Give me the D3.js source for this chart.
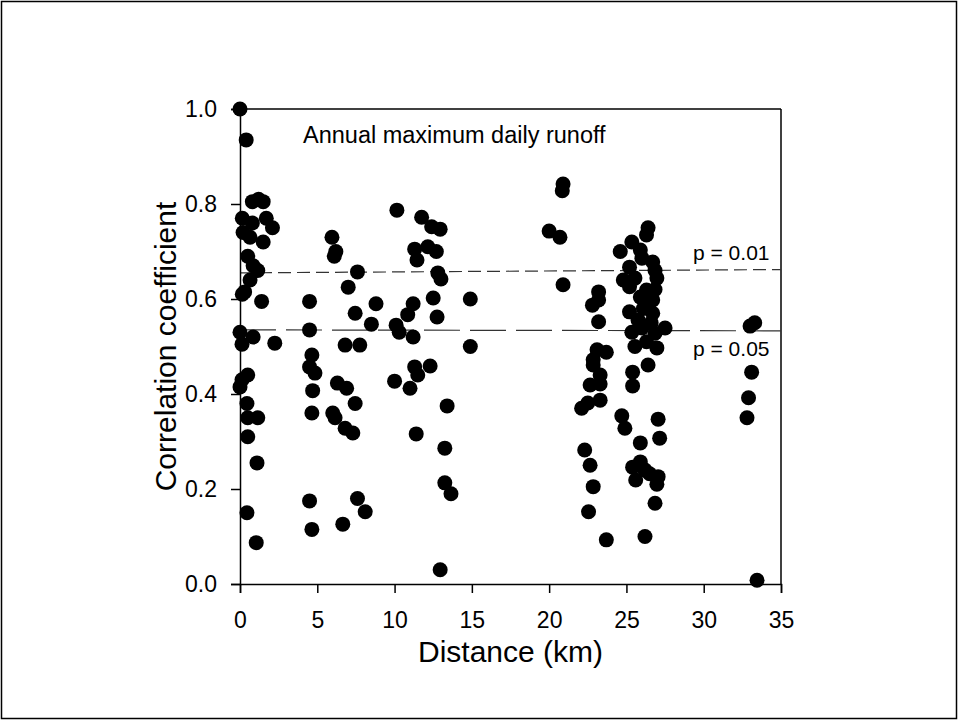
<!DOCTYPE html>
<html>
<head>
<meta charset="utf-8">
<script src="https://cdn.jsdelivr.net/npm/d3@7"></script>
<style>
  html, body { margin: 0; padding: 0; background: #fff; }
  svg { display: block; font-family: Arial, "Liberation Sans", sans-serif; }
</style>
</head>
<body>
<svg id="chart" width="958" height="720"></svg>
<script>
// ---- data (distance in km, correlation coefficient) ----
const distance = [
  // 0-2.5 km
  0, 0.4, 0.8, 1.2, 1.5, 0.15, 0.8, 1.7, 2.1, 0.2, 0.65, 1.5, 0.5, 0.85, 1.15, 0.65, 0.3, 0.15, 1.4,
  0, 0.85, 0.13, 2.25, 0.5, 0.13, 0, 0.45, 0.5, 1.15, 0.5, 1.1, 0.45, 1.05,
  // 4-9 km
  4.5, 4.5, 4.65, 4.5, 4.85, 4.7, 4.65, 4.5, 4.65, 5.95, 6.2, 6.1, 7.0, 7.6, 7.45, 8.8, 8.5,
  6.8, 7.75, 6.3, 6.9, 7.45, 6.0, 6.15, 6.8, 7.3, 7.6, 8.1, 6.65,
  // 10-15 km
  10.15, 11.75, 12.4, 12.95, 11.3, 11.45, 12.15, 12.7, 12.8, 13.0, 11.2, 10.85, 12.5, 14.9, 12.75,
  10.1, 10.3, 11.2, 14.9, 11.3, 12.3, 11.5, 10.0, 11.0, 13.4, 11.4, 13.25, 13.25, 13.65, 12.95,
  // 20-24 km
  20.9, 20.85, 20.0, 20.7, 20.9, 23.2, 23.2, 22.8, 23.2, 23.1, 23.7, 22.85, 22.85, 23.3, 22.65,
  23.3, 23.3, 22.5, 22.1, 22.3, 22.65, 22.85, 22.55, 23.7,
  // 24.5-27.5 km
  26.4, 26.3, 25.35, 24.6, 25.9, 26.0, 26.7, 25.2, 26.85, 24.8, 25.55, 26.97, 25.2, 26.3, 26.85,
  25.9, 26.7, 25.2, 26.1, 26.7, 25.75, 26.6, 25.35, 26.0, 26.85, 27.5, 25.55, 26.3, 26.97, 26.4,
  25.4, 25.4, 24.7, 24.9, 27.05, 27.15, 25.9, 25.9, 25.4, 26.2, 27.05, 25.6, 26.97, 26.85, 26.2, 26.5,
  // 33 km
  33.0, 33.3, 33.1, 32.9, 32.8, 33.45
];
const correlation = [
  1.0, 0.935, 0.805, 0.81, 0.805, 0.77, 0.76, 0.77, 0.75, 0.74, 0.73, 0.72, 0.69, 0.67, 0.66, 0.64, 0.615, 0.61, 0.595,
  0.53, 0.52, 0.505, 0.507, 0.44, 0.43, 0.415, 0.38, 0.35, 0.35, 0.31, 0.255, 0.15, 0.087,
  0.595, 0.535, 0.482, 0.457, 0.444, 0.407, 0.36, 0.175, 0.115, 0.73, 0.70, 0.69, 0.625, 0.657, 0.57, 0.59, 0.547,
  0.503, 0.503, 0.423, 0.412, 0.38, 0.36, 0.35, 0.328, 0.318, 0.18, 0.152, 0.126,
  0.787, 0.772, 0.752, 0.747, 0.705, 0.682, 0.71, 0.70, 0.655, 0.642, 0.59, 0.567, 0.602, 0.60, 0.562,
  0.545, 0.53, 0.52, 0.50, 0.457, 0.459, 0.44, 0.427, 0.412, 0.375, 0.316, 0.286, 0.213, 0.19, 0.03,
  0.842, 0.828, 0.743, 0.73, 0.63, 0.615, 0.598, 0.587, 0.552, 0.493, 0.488, 0.472, 0.461, 0.44, 0.419,
  0.421, 0.387, 0.381, 0.37, 0.282, 0.25, 0.205, 0.152, 0.093,
  0.75, 0.735, 0.72, 0.70, 0.703, 0.686, 0.678, 0.667, 0.66, 0.64, 0.644, 0.644, 0.626, 0.619, 0.62,
  0.604, 0.598, 0.573, 0.58, 0.57, 0.556, 0.55, 0.53, 0.539, 0.528, 0.539, 0.50, 0.51, 0.497, 0.461,
  0.446, 0.417, 0.354, 0.328, 0.347, 0.307, 0.297, 0.257, 0.246, 0.24, 0.226, 0.219, 0.21, 0.17, 0.10, 0.232,
  0.543, 0.55, 0.446, 0.392, 0.35, 0.008
];
const xTicks = [0, 5, 10, 15, 20, 25, 30, 35];
const yTicks = [0.0, 0.2, 0.4, 0.6, 0.8, 1.0];
// significance thresholds: [value at 0 km, value at 35 km]
const p01Line = [0.655, 0.662];
const p05Line = [0.535, 0.533];
const p01Label = "p = 0.01";
const p05Label = "p = 0.05";
const annotation = "Annual maximum daily runoff";
const xTitle = "Distance (km)";
const yTitle = "Correlation coefficient";

// ---- layout ----
const svg = d3.select("#chart");
const W = 958, H = 720;
const mLeft = 240, mRight = 781, mTop = 109, mBottom = 584;

svg.append("rect").attr("x", 1.5).attr("y", 1.5).attr("width", W - 3).attr("height", H - 3)
  .attr("fill", "#fff").attr("stroke", "#000").attr("stroke-width", 1.5);

const x = d3.scaleLinear().domain([0, 35]).range([mLeft, mRight]);
const y = d3.scaleLinear().domain([0, 1]).range([mBottom, mTop]);

// frame top and right
svg.append("line").attr("x1", mLeft).attr("x2", mRight).attr("y1", mTop).attr("y2", mTop)
  .attr("stroke", "#000").attr("stroke-width", 1.5);
svg.append("line").attr("x1", mRight).attr("x2", mRight).attr("y1", mTop).attr("y2", mBottom)
  .attr("stroke", "#000").attr("stroke-width", 1.5);

// threshold lines
const lineGen = d3.line().x(d => x(d[0])).y(d => y(d[1]));
svg.append("path").datum([[0, p01Line[0]], [35, p01Line[1]]]).attr("d", lineGen)
  .attr("fill", "none").attr("stroke", "#333").attr("stroke-width", 1.2).attr("stroke-dasharray", "13,6");
svg.append("path").datum([[0, p05Line[0]], [35, p05Line[1]]]).attr("d", lineGen)
  .attr("fill", "none").attr("stroke", "#333").attr("stroke-width", 1.2).attr("stroke-dasharray", "36,10");

// points
svg.append("g").selectAll("circle").data(d3.range(distance.length)).join("circle")
  .attr("cx", i => x(distance[i])).attr("cy", i => y(correlation[i]))
  .attr("r", 7.5).attr("fill", "#000");

// axes
const xAxis = svg.append("g").attr("transform", `translate(0,${mBottom})`)
  .call(d3.axisBottom(x).tickValues(xTicks).tickFormat(d3.format("d")).tickSize(9).tickPadding(18.5));
const yAxis = svg.append("g").attr("transform", `translate(${mLeft},0)`)
  .call(d3.axisLeft(y).tickValues(yTicks).tickFormat(d3.format(".1f")).tickSize(9).tickPadding(14));
[xAxis, yAxis].forEach(g => {
  g.select(".domain").attr("stroke", "#000").attr("stroke-width", 1.5);
  g.selectAll(".tick line").attr("stroke", "#000").attr("stroke-width", 1.5);
  g.selectAll(".tick text").attr("fill", "#000").attr("font-size", 23)
    .attr("font-family", "Arial, 'Liberation Sans', sans-serif");
});

// texts
svg.append("text").attr("x", 303).attr("y", 143).attr("font-size", 23.5).text(annotation);
svg.append("text").attr("x", 693).attr("y", 260).attr("font-size", 21).text(p01Label);
svg.append("text").attr("x", 693).attr("y", 356).attr("font-size", 21).text(p05Label);
svg.append("text").attr("x", (mLeft + mRight) / 2).attr("y", 662).attr("text-anchor", "middle")
  .attr("font-size", 30).text(xTitle);
svg.append("text").attr("transform", `translate(176,${(mTop + mBottom) / 2}) rotate(-90)`)
  .attr("text-anchor", "middle").attr("font-size", 30).text(yTitle);
</script>
</body>
</html>
